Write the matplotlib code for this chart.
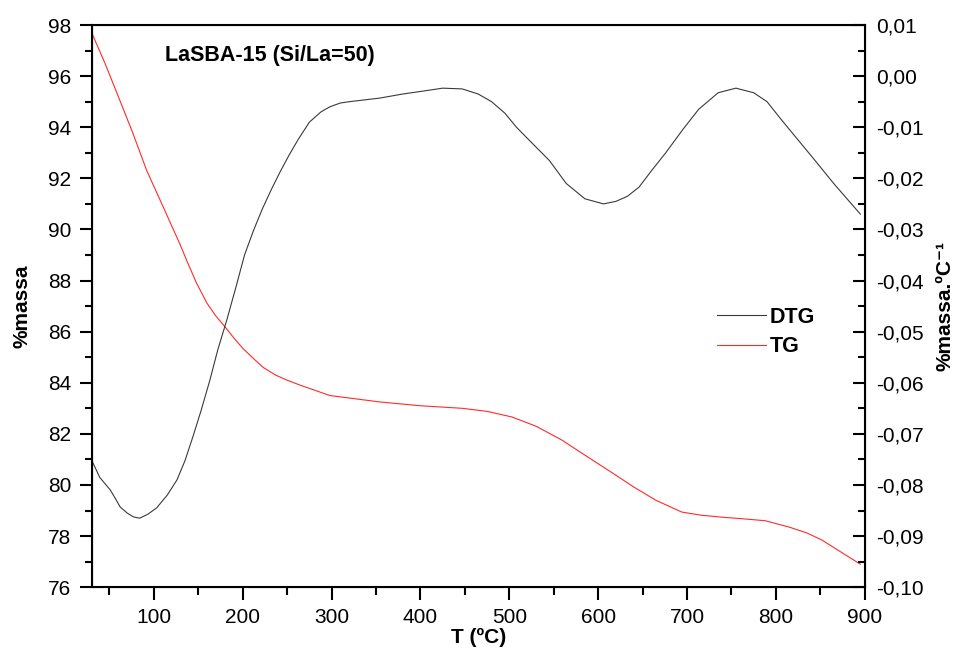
import numpy as np
import matplotlib
matplotlib.use("Agg")
import matplotlib.pyplot as plt
from matplotlib.ticker import MultipleLocator, FuncFormatter

plt.rcParams['font.family'] = ['Liberation Sans', 'DejaVu Sans']

# TG curve (%massa, left axis)
tg_t = [30, 45, 60, 76, 92, 107, 118, 129, 138, 148, 160, 170, 181, 190, 200, 212, 223,
        237, 250, 265, 280, 298, 325, 354, 400, 447, 475, 503, 530, 559, 588, 616, 640,
        665, 694, 715, 739, 765, 788, 815, 835, 852, 872, 895]
tg_m = [97.7, 96.5, 95.2, 93.8, 92.3, 91.15, 90.3, 89.45, 88.7, 87.9, 87.1, 86.6, 86.15,
        85.75, 85.35, 84.95, 84.6, 84.3, 84.1, 83.9, 83.72, 83.5, 83.38, 83.25, 83.1, 83.0,
        82.88, 82.66, 82.3, 81.76, 81.1, 80.47, 79.92, 79.4, 78.94, 78.82, 78.74, 78.67,
        78.6, 78.35, 78.12, 77.84, 77.4, 76.9]

# DTG curve (%massa.ºC-1, right axis)
dtg_t = [30, 35, 39, 45, 51, 57, 62, 70, 77, 84, 93, 103, 115, 126, 135, 144, 153, 163,
         172, 182, 192, 202, 212, 222, 232, 242, 252, 262, 275, 288, 298, 310, 320, 337,
         354, 380, 400, 425, 447, 465, 480, 495, 508, 525, 545, 564, 585, 606, 620, 633,
         646, 660, 676, 695, 713, 735, 755, 775, 790, 806, 825, 844, 865, 880, 895]
dtg_v = [-0.07515, -0.077, -0.0785, -0.07975, -0.081, -0.08275, -0.0843, -0.0855,
         -0.08625, -0.0865, -0.08575, -0.0845, -0.082, -0.079, -0.07525, -0.0705, -0.0655,
         -0.0595, -0.0535, -0.04775, -0.0415, -0.035, -0.03025, -0.026, -0.02225, -0.01875,
         -0.0155, -0.0125, -0.009, -0.007, -0.006, -0.00525, -0.005, -0.00465, -0.0043,
         -0.0035, -0.003, -0.00235, -0.0025, -0.0035, -0.005, -0.00725, -0.010, -0.013,
         -0.0165, -0.021, -0.024, -0.025, -0.0245, -0.0235, -0.0217, -0.0185, -0.015,
         -0.0105, -0.0065, -0.00325, -0.00235, -0.00325, -0.005, -0.0085, -0.0125,
         -0.0165, -0.021, -0.024, -0.027]

fig = plt.figure(figsize=(9.58, 6.59), dpi=100)
ax = fig.add_axes([0.0957, 0.109, 0.807, 0.853])
ax2 = ax.twinx()

l1, = ax2.plot(dtg_t, dtg_v, color='#3a3a3a', lw=0.8, label='DTG')
l2, = ax.plot(tg_t, tg_m, color='#ff2a2a', lw=0.8, label='TG')

ax.set_xlim(30, 900)
ax.set_ylim(76, 98)
ax2.set_ylim(-0.10, 0.01)

ax.xaxis.set_major_locator(MultipleLocator(100))
ax.xaxis.set_minor_locator(MultipleLocator(50))
ax.yaxis.set_major_locator(MultipleLocator(2))
ax.yaxis.set_minor_locator(MultipleLocator(1))
ax2.yaxis.set_major_locator(MultipleLocator(0.01))
ax2.yaxis.set_minor_locator(MultipleLocator(0.005))
ax2.yaxis.set_major_formatter(FuncFormatter(
    lambda v, p: ('%.2f' % v).replace('.', ',').replace('-0,00', '0,00')))

ax.tick_params(which='major', direction='out', length=8.5, width=1.5, labelsize=15, pad=6)
ax.tick_params(which='minor', direction='out', length=5, width=1.5)
ax.tick_params(axis='x', which='major', length=9, pad=6)
ax.tick_params(axis='x', which='minor', length=6)
ax2.tick_params(which='major', direction='in', length=8.5, width=1.5, labelsize=15, pad=8.5)
ax2.tick_params(which='minor', direction='in', length=5, width=1.5)
for s in ax.spines.values():
    s.set_linewidth(1.5)

ax.set_xlabel('T (ºC)', fontsize=15, fontweight='bold', labelpad=1)
ax.set_ylabel('%massa', fontsize=15, fontweight='bold', labelpad=12)
ax2.set_ylabel('%massa.ºC⁻¹', fontsize=15, fontweight='bold', labelpad=8)

ax.text(0.095, 0.9466, 'LaSBA-15 (Si/La=50)', transform=ax.transAxes,
        fontsize=15.5, fontweight='bold', va='center')

leg = ax.legend([l1, l2], ['DTG', 'TG'], loc='center left', bbox_to_anchor=(0.8086, 0.4537),
                frameon=False, prop={'weight': 'bold', 'size': 15.5}, handlelength=2.3,
                handletextpad=0.15, labelspacing=0.4, borderpad=0, borderaxespad=0)

fig.savefig('out.png', dpi=100)
